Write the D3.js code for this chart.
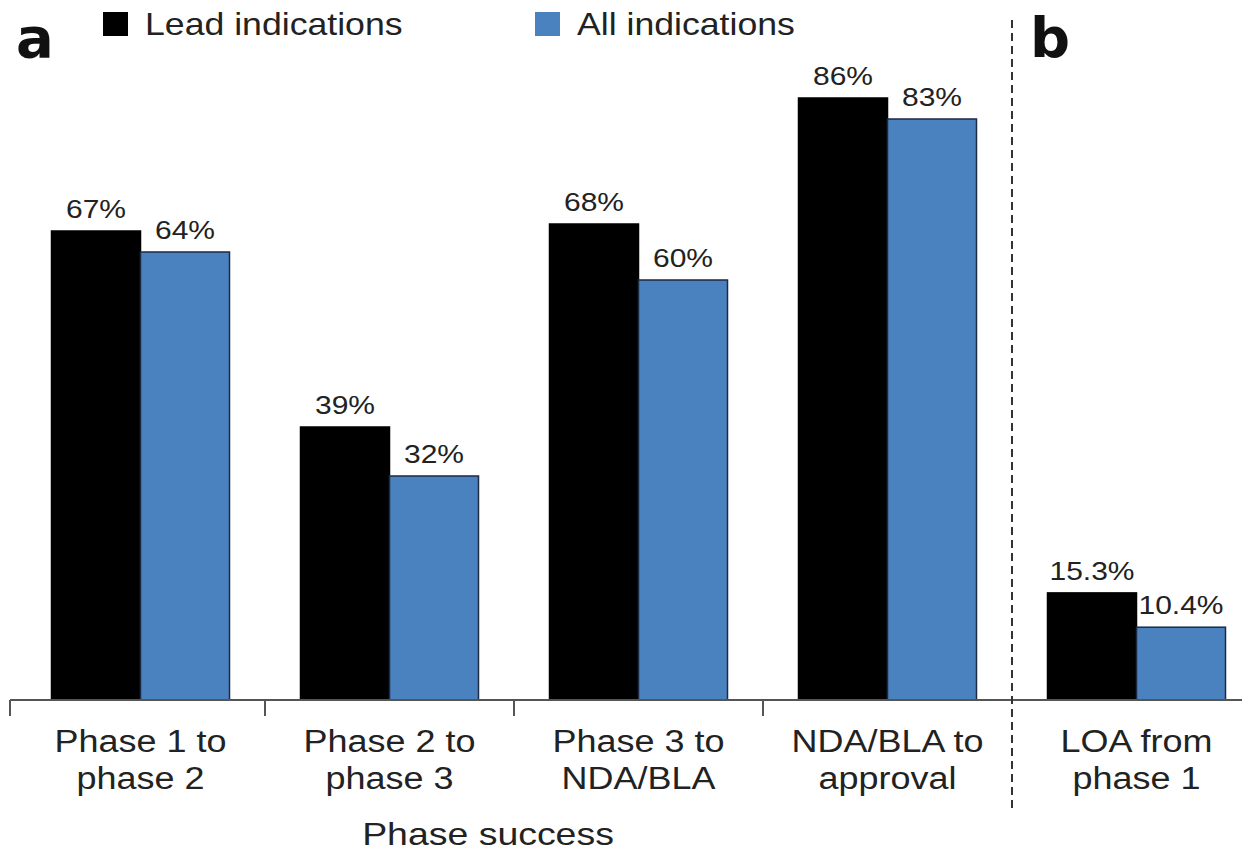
<!DOCTYPE html>
<html>
<head>
<meta charset="utf-8">
<script src="https://cdnjs.cloudflare.com/ajax/libs/d3/7.8.5/d3.min.js"></script>
<style>
  html, body { margin: 0; padding: 0; background: #fff; }
  svg text { font-family: "Liberation Sans", Arial, sans-serif; fill: #222; }
  svg text.panel { font-family: "DejaVu Sans", sans-serif; font-weight: bold; fill: #111; }
</style>
</head>
<body>
<svg id="chart" width="1242" height="851"></svg>
<script>
/* data */
let categories = ["p12", "p23", "p3n", "nda", "loa"];
let catLines = [["Phase 1 to", "phase 2"], ["Phase 2 to", "phase 3"], ["Phase 3 to", "NDA/BLA"],
                ["NDA/BLA to", "approval"], ["LOA from", "phase 1"]];
let series = ["Lead indications", "All indications"];
let leadValues = [67, 39, 68, 86, 15.3];
let allValues = [64, 32, 60, 83, 10.4];
let valueLabels = [["67%", "39%", "68%", "86%", "15.3%"], ["64%", "32%", "60%", "83%", "10.4%"]];
let colors = ["#000000", "#4a82c0"];

let svg = d3.select("#chart");
let baseY = 700, stretch = 1.16;

let x = d3.scaleBand().domain(categories).range([16, 1261]);
let x1 = d3.scaleBand().domain([0, 1]).range([x.bandwidth() / 2 - 89, x.bandwidth() / 2 + 89]);
let y = d3.scaleLinear().domain([0, 100]).range([baseY, 0]);

let rows = categories.map(function(c, i) {
    return { cat: c, vals: [leadValues[i], allValues[i]], labels: [valueLabels[0][i], valueLabels[1][i]], lines: catLines[i] };
});

// stretched text helper (the picture is a bit wider than tall)
function stext(g, tx, ty, str, size, anchor, sc) {
    return g.append("text")
        .attr("transform", "translate(" + tx + "," + ty + ") scale(" + (sc || stretch) + ",1)")
        .attr("text-anchor", anchor || "middle")
        .style("font-size", size + "px")
        .text(str);
}

/* bars */
let groups = svg.selectAll("g.grp")
    .data(rows)
  .enter().append("g")
    .attr("class", "grp")
    .attr("transform", function(d) { return "translate(" + x(d.cat) + ",0)"; });

groups.selectAll("rect")
    .data(function(d) { return d.vals.map(function(v, k) { return { v: v, k: k }; }); })
  .enter().append("rect")
    .attr("x", function(d) { return x1(d.k); })
    .attr("y", function(d) { return y(d.v); })
    .attr("width", x1.bandwidth())
    .attr("height", function(d) { return baseY - y(d.v); })
    .attr("fill", function(d) { return colors[d.k]; })
    .attr("stroke", function(d) { return d.k ? "#1c2a44" : "#000"; })
    .attr("stroke-width", 1.5);

groups.each(function(d) {
    let g = d3.select(this);
    d.vals.forEach(function(v, k) {
        stext(g, x1(k) + x1.bandwidth() / 2, y(v) - 13, d.labels[k], 25, "middle", 1.2);
    });
    stext(g, x.bandwidth() / 2, 752, d.lines[0], 31);
    stext(g, x.bandwidth() / 2, 789, d.lines[1], 31);
});

/* axis */
svg.append("line")
    .attr("x1", 10).attr("x2", 1242)
    .attr("y1", baseY).attr("y2", baseY)
    .attr("stroke", "#555").attr("stroke-width", 2);

let tickXs = [10].concat(categories.slice(1, 4).map(function(c) { return x(c); }));
svg.selectAll("line.tick")
    .data(tickXs)
  .enter().append("line")
    .attr("class", "tick")
    .attr("x1", function(d) { return d; }).attr("x2", function(d) { return d; })
    .attr("y1", baseY).attr("y2", baseY + 16)
    .attr("stroke", "#555").attr("stroke-width", 2);

// divider between panel a and b
svg.append("line")
    .attr("x1", x("loa")).attr("x2", x("loa"))
    .attr("y1", 20).attr("y2", 808)
    .attr("stroke", "#333").attr("stroke-width", 2)
    .attr("stroke-dasharray", "8,5");

stext(svg, 488, 845, "Phase success", 32, "middle", 1.17);

/* legend */
let legX = [103, 535];
series.forEach(function(s, k) {
    svg.append("rect")
        .attr("x", legX[k]).attr("y", 12)
        .attr("width", 25).attr("height", 24)
        .attr("fill", colors[k]);
    stext(svg, legX[k] + 42, 35, s, 31, "start", 1.15);
});

/* panel letters */
svg.append("text").attr("class", "panel").attr("x", 16).attr("y", 57).style("font-size", "56px").text("a");
svg.append("text").attr("class", "panel").attr("x", 1030).attr("y", 57).style("font-size", "56px").text("b");
</script>
</body>
</html>
